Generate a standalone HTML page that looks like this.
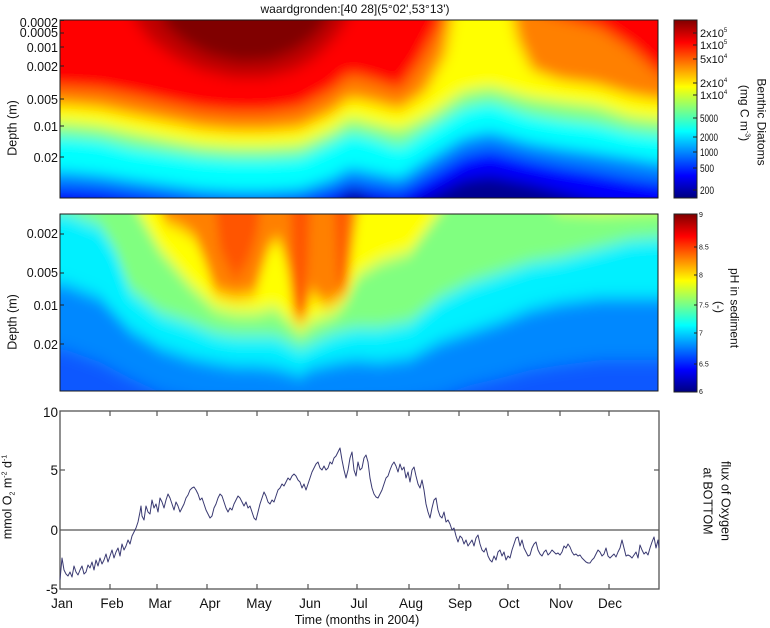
<!DOCTYPE html>
<html><head><meta charset="utf-8"><style>
html,body{margin:0;padding:0;background:#fff;}
svg{display:block;}
text{font-family:"Liberation Sans",Arial,sans-serif;fill:#111;}
</style></head><body>
<svg width="770" height="628" viewBox="0 0 770 628" xmlns="http://www.w3.org/2000/svg">
<defs>
<filter id="b1" filterUnits="userSpaceOnUse" x="0" y="-40" width="770" height="290"><feGaussianBlur stdDeviation="7 7"/></filter>
<filter id="b2" filterUnits="userSpaceOnUse" x="0" y="170" width="770" height="270"><feGaussianBlur stdDeviation="5 8"/></filter>
<clipPath id="c1"><rect x="60" y="20" width="598" height="178"/></clipPath>
<clipPath id="c2"><rect x="60" y="214" width="598" height="177"/></clipPath>
<linearGradient id="jet" x1="0" y1="0" x2="0" y2="1">
<stop offset="0" stop-color="#800000"/><stop offset="0.125" stop-color="#ff0000"/><stop offset="0.25" stop-color="#ff8000"/><stop offset="0.375" stop-color="#ffff00"/><stop offset="0.5" stop-color="#80ff80"/><stop offset="0.625" stop-color="#00ffff"/><stop offset="0.75" stop-color="#0080ff"/><stop offset="0.875" stop-color="#0000ff"/><stop offset="1" stop-color="#000080"/>
</linearGradient>
</defs>

<text x="355" y="13" font-size="12" text-anchor="middle">waardgronden:[40 28](5°02',53°13')</text>

<!-- Panel 1 heatmap -->
<g clip-path="url(#c1)">
<g filter="url(#b1)">
<rect x="20" y="-20" width="680" height="260" fill="#000090"/>
<path fill="#0000ff" d="M20,-20 L20,206 L100,206 L150,210 L330,210 L345,196 L355,190 L368,200 L400,208 L430,196 L463,180 L490,176 L530,184 L560,192 L597,202 L630,208 L700,212 L700,-20Z"/>
<path fill="#0080ff" d="M20,-20 L20,188 L67,188 L100,190 L133,194 L170,198 L200,202 L265,203 L300,200 L333,192 L350,184 L370,188 L400,192 L430,175 L463,156 L490,150 L530,160 L560,166 L597,172 L630,178 L660,182 L700,182 L700,-20Z"/>
<path fill="#00ffff" d="M20,-20 L20,172 L67,172 L100,175 L133,180 L170,185 L200,189 L233,191 L265,191 L300,189 L333,178 L350,168 L370,172 L400,178 L430,158 L463,138 L490,132 L530,143 L560,148 L597,153 L630,158 L660,163 L700,163 L700,-20Z"/>
<path fill="#80ff80" d="M20,-20 L20,137 L67,137 L100,140 L133,148 L170,153 L200,157 L233,159 L265,159 L300,157 L333,142 L350,133 L370,137 L400,147 L430,128 L463,108 L490,102 L530,115 L560,120 L597,124 L630,132 L660,135 L700,135 L700,-20Z"/>
<path fill="#ffff00" d="M20,-20 L20,123 L67,123 L100,126 L133,133 L170,140 L200,145 L233,147 L265,147 L300,145 L333,130 L350,118 L370,123 L400,130 L430,115 L463,92 L490,87 L530,98 L560,102 L597,106 L630,117 L660,120 L700,120 L700,-20Z"/>
<path fill="#ff8000" d="M20,-20 L20,105 L67,105 L100,108 L133,115 L170,122 L200,128 L233,131 L265,131 L300,128 L333,112 L350,98 L370,102 L400,110 L425,92 L445,55 L458,-20 L505,-20 L518,40 L532,70 L560,80 L597,85 L630,95 L660,100 L700,100 L700,-20Z"/>
<path fill="#ff0000" d="M20,-20 L20,88 L67,88 L100,90 L133,96 L170,104 L200,110 L233,113 L265,113 L300,108 L333,90 L350,75 L370,80 L400,90 L420,62 L440,25 L450,-20 L520,-20 L540,12 L570,20 L600,28 L630,48 L660,75 L700,80 L700,-20Z"/>
<path fill="#c00000" d="M120,-20 L135,20 L150,40 L175,58 L200,70 L233,78 L265,78 L295,70 L315,58 L335,38 L350,15 L360,-20Z"/>
<path fill="#800000" d="M150,-20 L165,25 L185,42 L210,55 L240,62 L270,60 L295,50 L315,35 L330,15 L340,-20Z"/>
</g>
</g>
<rect x="60" y="20" width="598" height="178" fill="none" stroke="#1a1a1a" stroke-width="1"/>

<!-- Panel 2 heatmap -->
<g clip-path="url(#c2)">
<g filter="url(#b2)">
<rect x="20" y="180" width="680" height="250" fill="#0858ff"/>
<path fill="#0088ff" d="M20,180 L20,345 L67,350 L100,362 L130,378 L160,392 L200,402 L280,405 L330,405 L400,402 L440,395 L470,385 L500,378 L530,370 L560,365 L600,360 L630,360 L700,360 L700,180Z"/>
<path fill="#00f0ff" d="M20,180 L20,280 L67,285 L100,298 L130,330 L160,348 L190,358 L215,363 L235,366 L255,366 L275,368 L290,372 L300,375 L312,368 L322,366 L335,363 L355,360 L380,362 L410,358 L440,342 L470,332 L500,322 L530,310 L560,303 L600,298 L630,298 L700,298 L700,180Z"/>
<path fill="#80ff80" d="M20,180 L20,210 L67,213 L100,226 L115,250 L130,290 L160,313 L190,323 L215,333 L235,336 L255,336 L275,336 L290,343 L300,348 L312,343 L322,338 L335,333 L355,328 L380,328 L410,322 L440,298 L470,283 L500,273 L530,263 L560,258 L600,248 L630,240 L700,235 L700,180Z"/>
<path fill="#ffff00" d="M20,180 L120,180 L140,215 L160,250 L190,285 L215,308 L235,313 L255,313 L275,308 L290,322 L300,332 L312,322 L322,318 L335,313 L347,300 L358,275 L380,262 L410,252 L430,225 L450,198 L470,185 L520,185 L560,210 L600,212 L640,210 L700,208 L700,180Z"/>
<path fill="#ff8000" d="M150,180 L165,222 L180,228 L195,238 L205,262 L215,292 L235,298 L255,294 L262,270 L270,245 L280,240 L288,270 L295,320 L305,320 L312,290 L318,300 L327,305 L337,300 L347,292 L355,230 L362,180Z"/>
<path fill="#ff5500" d="M212,180 L220,250 L235,280 L248,262 L258,230 L262,180Z"/>
<path fill="#ff5500" d="M289,180 L295,312 L302,315 L308,262 L311,180Z"/>
<path fill="#ff5500" d="M333,180 L338,282 L344,286 L349,180Z"/>
</g>
</g>
<rect x="60" y="214" width="598" height="177" fill="none" stroke="#1a1a1a" stroke-width="1"/>

<g stroke="#222" stroke-width="1">
<line x1="60" y1="20.5" x2="64" y2="20.5"/><line x1="60" y1="33" x2="64" y2="33"/><line x1="60" y1="47" x2="64" y2="47"/><line x1="60" y1="66" x2="64" y2="66"/><line x1="60" y1="99" x2="64" y2="99"/><line x1="60" y1="126" x2="64" y2="126"/><line x1="60" y1="157" x2="64" y2="157"/>
<line x1="60" y1="234" x2="64" y2="234"/><line x1="60" y1="273" x2="64" y2="273"/><line x1="60" y1="305" x2="64" y2="305"/><line x1="60" y1="344" x2="64" y2="344"/>
</g>
<g font-size="12.5" text-anchor="end">
<text x="58" y="27">0.0002</text>
<text x="58" y="37">0.0005</text>
<text x="58" y="52">0.001</text>
<text x="58" y="71">0.002</text>
<text x="58" y="104">0.005</text>
<text x="58" y="131">0.01</text>
<text x="58" y="162">0.02</text>
<text x="58" y="238">0.002</text>
<text x="58" y="277">0.005</text>
<text x="58" y="310">0.01</text>
<text x="58" y="349">0.02</text>
</g>
<text font-size="12.5" text-anchor="middle" transform="translate(16.5,128) rotate(-90)">Depth (m)</text>
<text font-size="12.5" text-anchor="middle" transform="translate(16.5,322) rotate(-90)">Depth (m)</text>

<!-- Colorbar 1 -->
<rect x="674" y="20" width="23" height="178" fill="url(#jet)" stroke="#222" stroke-width="1"/>
<g stroke="#222" stroke-width="1">
<line x1="693" y1="33" x2="697" y2="33"/><line x1="693" y1="45" x2="697" y2="45"/><line x1="693" y1="59" x2="697" y2="59"/><line x1="693" y1="83" x2="697" y2="83"/><line x1="693" y1="95" x2="697" y2="95"/><line x1="693" y1="118" x2="697" y2="118"/><line x1="693" y1="137" x2="697" y2="137"/><line x1="693" y1="152" x2="697" y2="152"/><line x1="693" y1="168" x2="697" y2="168"/><line x1="693" y1="190" x2="697" y2="190"/>
</g>
<g font-size="11">
<text x="700" y="37">2x10<tspan font-size="6" dy="-5">5</tspan></text>
<text x="700" y="49">1x10<tspan font-size="6" dy="-5">5</tspan></text>
<text x="700" y="63">5x10<tspan font-size="6" dy="-5">4</tspan></text>
<text x="700" y="87">2x10<tspan font-size="6" dy="-5">4</tspan></text>
<text x="700" y="99">1x10<tspan font-size="6" dy="-5">4</tspan></text>
<text x="700" y="122" textLength="18" lengthAdjust="spacingAndGlyphs">5000</text>
<text x="700" y="141" textLength="18" lengthAdjust="spacingAndGlyphs">2000</text>
<text x="700" y="156" textLength="18" lengthAdjust="spacingAndGlyphs">1000</text>
<text x="700" y="172" textLength="14" lengthAdjust="spacingAndGlyphs">500</text>
<text x="700" y="194" textLength="14" lengthAdjust="spacingAndGlyphs">200</text>
</g>
<text font-size="12" text-anchor="middle" transform="translate(757.5,122) rotate(90)">Benthic Diatoms</text>
<text font-size="12" text-anchor="middle" transform="translate(740.5,113) rotate(90)">(mg C m<tspan font-size="7" dy="-5">-3</tspan><tspan dy="5">)</tspan></text>

<!-- Colorbar 2 -->
<rect x="674" y="214" width="23" height="178" fill="url(#jet)" stroke="#222" stroke-width="1"/>
<g stroke="#222" stroke-width="1">
<line x1="694" y1="247" x2="697" y2="247"/><line x1="694" y1="275" x2="697" y2="275"/><line x1="694" y1="305" x2="697" y2="305"/><line x1="694" y1="333" x2="697" y2="333"/><line x1="694" y1="364" x2="697" y2="364"/>
</g>
<g font-size="7">
<text x="699" y="217">9</text>
<text x="699" y="249.5">8.5</text>
<text x="699" y="277.5">8</text>
<text x="699" y="307.5">7.5</text>
<text x="699" y="335.5">7</text>
<text x="699" y="366.5">6.5</text>
<text x="699" y="394">6</text>
</g>
<text font-size="12" text-anchor="middle" transform="translate(730.5,308) rotate(90)">pH in sediment</text>
<text font-size="12" text-anchor="middle" transform="translate(715,307) rotate(90)">(-)</text>

<!-- Panel 3 -->
<rect x="60" y="411" width="599" height="178" fill="#fff" stroke="#555" stroke-width="1.3"/>
<line x1="60" y1="530" x2="659" y2="530" stroke="#555" stroke-width="1.2"/>
<g stroke="#555" stroke-width="1.2">
<line x1="60" y1="470" x2="65" y2="470"/><line x1="654" y1="470" x2="659" y2="470"/>
<line x1="110" y1="411" x2="110" y2="416"/><line x1="110" y1="589" x2="110" y2="584"/>
<line x1="157" y1="411" x2="157" y2="416"/><line x1="157" y1="589" x2="157" y2="584"/>
<line x1="207" y1="411" x2="207" y2="416"/><line x1="207" y1="589" x2="207" y2="584"/>
<line x1="257" y1="411" x2="257" y2="416"/><line x1="257" y1="589" x2="257" y2="584"/>
<line x1="308" y1="411" x2="308" y2="416"/><line x1="308" y1="589" x2="308" y2="584"/>
<line x1="357" y1="411" x2="357" y2="416"/><line x1="357" y1="589" x2="357" y2="584"/>
<line x1="409" y1="411" x2="409" y2="416"/><line x1="409" y1="589" x2="409" y2="584"/>
<line x1="459" y1="411" x2="459" y2="416"/><line x1="459" y1="589" x2="459" y2="584"/>
<line x1="508" y1="411" x2="508" y2="416"/><line x1="508" y1="589" x2="508" y2="584"/>
<line x1="560" y1="411" x2="560" y2="416"/><line x1="560" y1="589" x2="560" y2="584"/>
<line x1="609" y1="411" x2="609" y2="416"/><line x1="609" y1="589" x2="609" y2="584"/>
</g>
<polyline fill="none" stroke="#3a3a72" stroke-width="1" stroke-linejoin="round" points="60,580 62,558 64,570 66,574 68,576 70,572 72,577 74,566 76,572 78,575 80,570 82,566 84,574 86,572 88,565 90,568 92,562 94,570 96,560 98,566 100,558 102,564 104,560 106,554 108,562 110,556 112,550 114,558 116,552 118,548 120,556 122,544 124,550 126,546 128,540 130,544 132,536 134,532 136,528 138,522 140,512 141,506 142,516 144,520 146,506 148,512 150,514 152,500 154,508 156,504 158,512 160,498 162,502 164,508 166,500 168,494 170,498 172,504 174,510 176,502 178,506 180,512 182,508 184,504 186,498 188,495 190,490 192,488 194,487 196,490 198,494 200,500 202,498 204,504 206,510 208,514 210,518 212,516 214,508 216,504 218,498 220,494 222,496 224,502 226,508 228,512 230,508 232,510 234,504 236,500 238,496 240,498 242,502 244,506 246,502 248,508 250,506 252,512 254,518 256,520 258,512 260,504 262,498 264,492 266,496 268,502 270,504 272,500 274,502 276,496 278,490 280,488 282,484 284,486 286,482 288,478 290,480 292,476 294,474 296,476 298,480 300,482 302,488 304,484 306,490 308,484 310,478 312,472 314,468 316,464 318,462 320,468 322,470 324,466 326,470 328,468 330,462 332,464 334,458 336,456 338,452 340,448 342,460 344,470 346,478 348,470 350,458 352,452 354,470 356,476 358,462 360,470 362,468 364,458 366,455 368,462 370,478 372,488 374,494 376,497 378,498 380,494 382,490 384,484 386,478 388,476 390,470 392,465 394,462 396,466 398,472 400,464 402,470 404,467 406,478 408,472 410,482 412,470 414,467 416,476 418,484 420,488 422,480 424,490 426,504 428,512 430,518 432,508 434,500 436,498 438,510 440,516 442,518 444,512 446,522 448,520 450,524 452,530 454,528 456,536 458,542 460,536 462,538 464,544 466,540 468,546 470,543 472,540 474,546 476,538 478,535 480,544 482,550 484,552 486,548 488,556 490,560 492,562 494,556 496,560 498,552 500,550 502,556 504,552 506,560 508,556 510,558 512,550 514,544 516,538 518,537 520,546 522,540 524,548 526,552 528,556 530,555 532,548 534,544 536,542 538,550 540,554 542,556 544,552 546,550 548,555 550,553 552,550 554,552 556,554 558,553 560,555 562,552 564,546 566,548 568,544 570,547 572,552 574,555 576,554 578,556 580,555 582,558 584,560 586,562 588,563 590,563 592,560 594,558 596,554 598,550 600,552 602,556 604,554 606,548 608,556 610,558 612,556 614,554 616,557 618,552 620,548 622,540 624,548 626,556 628,555 630,556 632,558 634,555 636,552 638,558 640,545 642,550 644,554 646,552 648,555 650,548 652,542 654,537 656,548 658,540 659,548"/>

<g font-size="13.5" text-anchor="end">
<text x="58" y="417">10</text>
<text x="58" y="475">5</text>
<text x="58" y="535">0</text>
<text x="58" y="594">-5</text>
</g>
<g font-size="13.5" text-anchor="middle">
<text x="62" y="608">Jan</text>
<text x="112" y="608">Feb</text>
<text x="160" y="608">Mar</text>
<text x="210" y="608">Apr</text>
<text x="259" y="608">May</text>
<text x="310" y="608">Jun</text>
<text x="359" y="608">Jul</text>
<text x="411" y="608">Aug</text>
<text x="460" y="608">Sep</text>
<text x="509" y="608">Oct</text>
<text x="561" y="608">Nov</text>
<text x="610" y="608">Dec</text>
</g>
<text x="357" y="624" font-size="12.5" text-anchor="middle">Time (months in 2004)</text>
<text font-size="12.5" text-anchor="middle" transform="translate(11.5,497) rotate(-90)">mmol O<tspan font-size="7" dy="3">2</tspan><tspan dy="-3"> m</tspan><tspan font-size="7" dy="-5">-2</tspan><tspan dy="5"> d</tspan><tspan font-size="7" dy="-5">-1</tspan></text>
<text font-size="12.5" text-anchor="middle" transform="translate(721.5,501) rotate(90)">flux of Oxygen</text>
<text font-size="12.5" text-anchor="middle" transform="translate(703.5,501) rotate(90)">at BOTTOM</text>
</svg>
</body></html>
